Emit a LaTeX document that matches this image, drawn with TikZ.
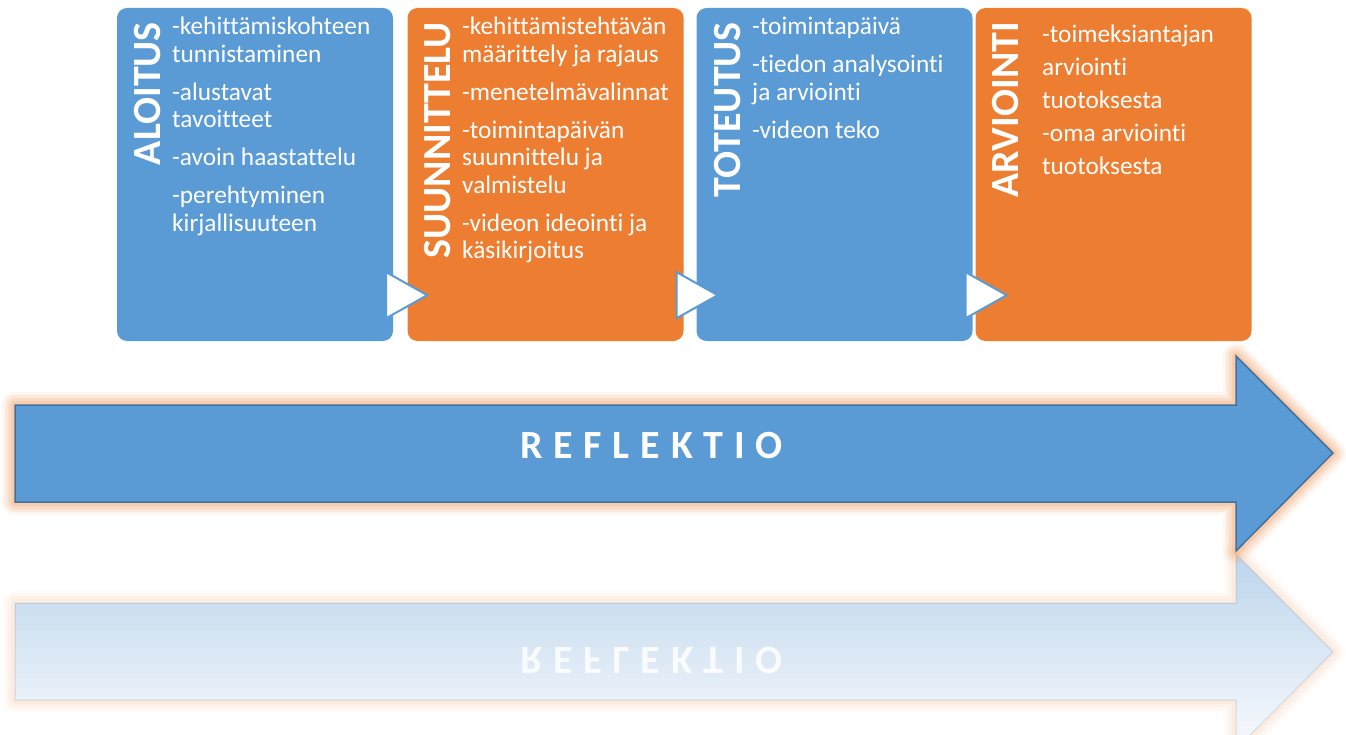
\documentclass[tikz,border=0pt]{standalone}
\usepackage{fontspec}
\setmainfont[Ligatures={NoCommon}]{Carlito}
\newfontfamily\spacedfont[LetterSpace=27,Ligatures={NoCommon}]{Carlito}
\usetikzlibrary{calc}
\definecolor{boxblue}{HTML}{5B9BD5}
\definecolor{boxorange}{HTML}{ED7D31}
\definecolor{arrowedge}{HTML}{41719C}
\definecolor{glowc}{HTML}{F4B183}
\definecolor{reftop}{HTML}{BDD5EC}
\definecolor{refbot}{HTML}{F8FAFD}
\newcommand\bline[1]{\hbox{#1}}
\newcommand\itemgap{\vskip 10.5pt}
\begin{document}
\begin{tikzpicture}[x=1pt,y=-1pt,
  phase/.style={rounded corners=10pt, minimum width=276pt, minimum height=333pt, inner sep=0pt, draw=none},
  phasetitle/.style={rotate=90, anchor=base east, inner sep=0pt, text=white, font=\fontsize{40}{48}\selectfont\bfseries},
  phaseitems/.style={anchor=base west, inner sep=0pt, text=white, font=\fontsize{25.3}{27.5}\selectfont},
  tri/.style={fill=white, draw=boxblue, line width=2pt, line join=miter},
  arrowtext/.style={anchor=base west, inner sep=0pt, font=\spacedfont\bfseries\fontsize{40}{48}\selectfont}
]
\useasboundingbox (0,0) rectangle (1346,735);

% ---------- reflection of the arrow ----------
\def\refpath{(15,700) -- (1236,700) -- (1236,749) -- (1333,652) -- (1236,554) -- (1236,603) -- (15,603) -- cycle}
\foreach \w/\o in {26/0.04, 20/0.06, 14/0.08, 8/0.11}{
  \draw[glowc, line width=\w pt, opacity=\o, line join=round] \refpath;
}
\draw[top color=reftop, bottom color=refbot, draw=arrowedge, draw opacity=0.2, line width=1pt] \refpath;
\node[arrowtext, text=white, opacity=0.85, yscale=-1, transform shape] (reftext) at (520,647) {REFLEKTIO};

% ---------- main arrow ----------
\def\arrowpath{(15,405) -- (1236,405) -- (1236,356) -- (1333,453) -- (1236,551) -- (1236,502) -- (15,502) -- cycle}
\foreach \w/\o in {26/0.12, 20/0.18, 14/0.25, 8/0.35}{
  \draw[glowc, line width=\w pt, opacity=\o, line join=round] \arrowpath;
}
\draw[fill=boxblue, draw=arrowedge, line width=1.5pt] \arrowpath;
\node[arrowtext, text=white] (maintext) at (520,458) {REFLEKTIO};

% ---------- phase boxes ----------
\node[phase, fill=boxblue]   (b1) at (255,174.5)   {};
\node[phase, fill=boxorange] (b2) at (545.5,174.5) {};
\node[phase, fill=boxblue]   (b3) at (834.5,174.5) {};
\node[phase, fill=boxorange] (b4) at (1113.5,174.5) {};

\node[phasetitle] (t1) at (160,22)  {ALOITUS};
\node[phasetitle] (t2) at (450,22)  {SUUNNITTELU};
\node[phasetitle] (t3) at (740,22)  {TOTEUTUS};
\node[phasetitle] (t4) at (1018,22) {ARVIOINTI};

\node[phaseitems] (i1) at (172,35) {\vtop{%
  \bline{-kehittämiskohteen}\bline{tunnistaminen}\itemgap
  \bline{-alustavat}\bline{tavoitteet}\itemgap
  \bline{-avoin haastattelu}\itemgap
  \bline{-perehtyminen}\bline{kirjallisuuteen}}};
\node[phaseitems] (i2) at (462,35) {\vtop{%
  \bline{-kehittämistehtävän}\bline{määrittely ja rajaus}\itemgap
  \bline{-menetelmävalinnat}\itemgap
  \bline{-toimintapäivän}\bline{suunnittelu ja}\bline{valmistelu}\itemgap
  \bline{-videon ideointi ja}\bline{käsikirjoitus}}};
\node[phaseitems] (i3) at (752,35) {\vtop{%
  \bline{-toimintapäivä}\itemgap
  \bline{-tiedon analysointi}\bline{ja arviointi}\itemgap
  \bline{-videon teko}}};
\node[phaseitems] (i4) at (1042,43) {\vtop{\baselineskip=33pt
  \bline{-toimeksiantajan}\bline{arviointi}\bline{tuotoksesta}%
  \bline{-oma arviointi}\bline{tuotoksesta}}};

% ---------- small triangles between boxes ----------
\foreach \b in {b1,b2,b3}{
  \draw[tri] ($(\b.south east)+(-7,-69)$) -- ($(\b.south east)+(34,-46)$) -- ($(\b.south east)+(-7,-23)$) -- cycle;
}
\end{tikzpicture}
\end{document}
